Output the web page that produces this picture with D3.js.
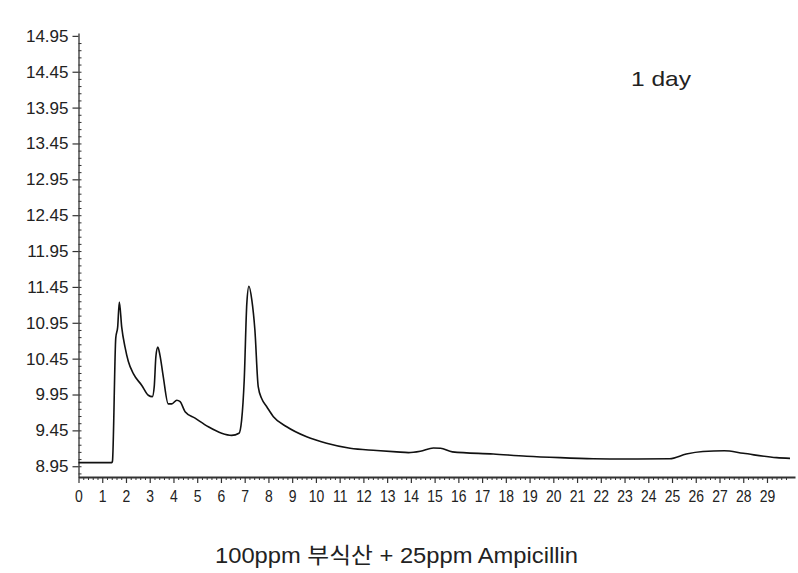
<!DOCTYPE html>
<html>
<head>
<meta charset="utf-8">
<script src="https://cdn.jsdelivr.net/npm/d3@7"></script>
<style>
html,body{margin:0;padding:0;background:#fff;}
svg{display:block;}
</style>
</head>
<body>
<svg id="chart" width="798" height="573"></svg>
<script>
// ---- data ----
const timeMin = [0, 1.40, 1.43, 1.57, 1.65, 1.72, 1.82, 1.96, 2.10, 2.31, 2.66, 2.94, 3.11, 3.19, 3.26, 3.34, 3.43, 3.57, 3.78, 3.93, 4.14, 4.28, 4.49, 4.91, 5.47, 6.03, 6.45, 6.76, 6.87, 6.98, 7.09, 7.18, 7.30, 7.43, 7.57, 7.72, 7.93, 8.21, 8.77, 9.61, 10.45, 11.44, 12.56, 13.40, 13.90, 14.40, 14.95, 15.25, 15.75, 17.47, 18.88, 20.28, 21.68, 23.09, 24.90, 25.60, 26.30, 27.20, 28.00, 29.41, 29.97];
const signal  = [9.00, 9.00, 9.02, 10.74, 10.89, 11.24, 10.89, 10.61, 10.41, 10.24, 10.08, 9.94, 9.92, 10.06, 10.48, 10.61, 10.50, 10.20, 9.82, 9.82, 9.87, 9.85, 9.71, 9.62, 9.50, 9.41, 9.38, 9.41, 9.59, 10.15, 11.22, 11.46, 11.27, 10.85, 10.06, 9.89, 9.78, 9.64, 9.50, 9.36, 9.27, 9.20, 9.17, 9.15, 9.14, 9.16, 9.205, 9.20, 9.15, 9.12, 9.09, 9.07, 9.055, 9.05, 9.055, 9.12, 9.155, 9.165, 9.13, 9.07, 9.06];
const yTickValues = [8.95, 9.45, 9.95, 10.45, 10.95, 11.45, 11.95, 12.45, 12.95, 13.45, 13.95, 14.45, 14.95];
const xTickValues = d3.range(0, 30, 1);
const annotation = "1 day";
const caption = "100ppm 부식산 + 25ppm Ampicillin";

// ---- layout ----
const svg = d3.select("#chart");
const mLeft = 78.5, mRight = 795, mTop = 33, mBottom = 477;
const x = d3.scaleLinear().domain([0, 30.18]).range([mLeft, mRight]);
const y = d3.scaleLinear().domain([8.80, 14.99]).range([mBottom, mTop]);

const tickFont = "'Liberation Sans', sans-serif";

// y axis
const yAxis = svg.append("g").attr("transform", `translate(${mLeft},0)`)
  .call(d3.axisLeft(y).tickValues(yTickValues).tickFormat(d3.format(".2f")).tickSize(6).tickSizeOuter(0));
yAxis.selectAll("text").attr("font-family", tickFont).attr("font-size", 17).attr("fill", "#222").attr("dx", "-1");
yAxis.select(".domain").attr("stroke", "#333").attr("stroke-width", 1.3);
yAxis.selectAll(".tick line").attr("stroke", "#333").attr("stroke-width", 1.2);
// y minor ticks
const yMinor = d3.range(0, 61).map(i => 8.85 + i * 0.1).filter(v => v <= 14.99 && v >= 8.8);
svg.append("g").attr("transform", `translate(${mLeft},0)`)
  .call(d3.axisRight(y).tickValues(yMinor).tickSize(3).tickFormat(""))
  .call(g => g.select(".domain").remove())
  .selectAll("line").attr("stroke", "#333").attr("stroke-width", 1);

// x axis
const xAxis = svg.append("g").attr("transform", `translate(0,${mBottom})`)
  .call(d3.axisBottom(x).tickValues(xTickValues).tickFormat(d3.format("d")).tickSize(6).tickSizeOuter(0));
xAxis.selectAll("text").attr("font-family", tickFont).attr("font-size", 17).attr("fill", "#222").attr("dy", "0.95em")
  .each(function() {
    const w = this.getComputedTextLength();
    d3.select(this).attr("textLength", w * 0.82).attr("lengthAdjust", "spacingAndGlyphs");
  });
xAxis.select(".domain").attr("stroke", "#333").attr("stroke-width", 2);
xAxis.selectAll(".tick line").attr("stroke", "#333").attr("stroke-width", 1.2);
const xMinor = d3.range(0, 152).map(i => i * 0.2).filter(v => v <= 30.18 && Math.abs(v - Math.round(v)) > 1e-6);
svg.append("g").attr("transform", `translate(0,${mBottom})`)
  .call(d3.axisBottom(x).tickValues(xMinor).tickSize(3).tickFormat(""))
  .call(g => g.select(".domain").remove())
  .selectAll("line").attr("stroke", "#333").attr("stroke-width", 1);

// curve
const pts = timeMin.map((t, i) => [t, signal[i]]);
svg.append("path")
  .datum(pts)
  .attr("fill", "none")
  .attr("stroke", "#111")
  .attr("stroke-width", 1.6)
  .attr("stroke-linejoin", "round")
  .attr("d", d3.line().x(d => x(d[0])).y(d => y(d[1])).curve(d3.curveMonotoneX));

// annotation
svg.append("text")
  .attr("x", 631).attr("y", 86)
  .attr("font-family", "'Liberation Sans', sans-serif")
  .attr("font-size", 21).attr("fill", "#222")
  .attr("textLength", 60).attr("lengthAdjust", "spacingAndGlyphs")
  .text(annotation);

// caption
svg.append("text")
  .attr("x", 215).attr("y", 563)
  .attr("font-family", "'Liberation Sans', 'Noto Sans CJK KR', sans-serif")
  .attr("font-size", 22).attr("fill", "#222")
  .attr("textLength", 363).attr("lengthAdjust", "spacingAndGlyphs")
  .text(caption);
</script>
</body>
</html>
